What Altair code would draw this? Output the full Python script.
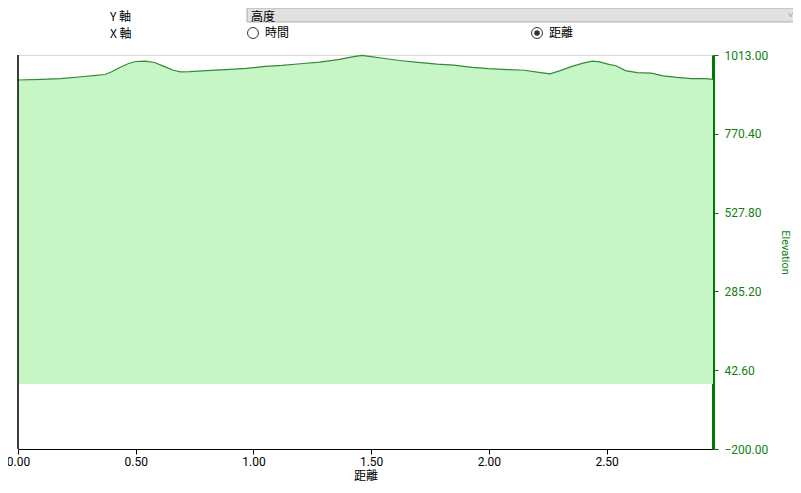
import altair as alt
import pandas as pd

# --- data ---
distance = [0.00, 0.10, 0.18, 0.27, 0.33, 0.37, 0.40, 0.43, 0.47, 0.50, 0.54, 0.58,
            0.62, 0.66, 0.69, 0.73, 0.80, 0.90, 0.97, 1.05, 1.12, 1.20, 1.28, 1.36,
            1.42, 1.46, 1.50, 1.55, 1.62, 1.70, 1.78, 1.85, 1.93, 2.00, 2.08, 2.15,
            2.22, 2.26, 2.30, 2.35, 2.40, 2.44, 2.47, 2.51, 2.54, 2.58, 2.63, 2.69,
            2.74, 2.80, 2.86, 2.92, 2.952]
elevation = [936, 938, 940, 946, 950, 953, 962, 974, 987, 993, 994, 990,
             978, 966, 961, 962, 965, 969, 972, 978, 981, 986, 991, 999,
             1007, 1012, 1008, 1003, 996, 990, 985, 982, 975, 971, 968, 966,
             959, 955, 964, 977, 988, 994, 992, 984, 980, 965, 959, 957,
             949, 944, 940, 940, 938]
x_ticks = [0.0, 0.5, 1.0, 1.5, 2.0, 2.5]
y_ticks = [-200.0, 42.6, 285.2, 527.8, 770.4, 1013.0]
x_title = "距離"
y_title = "Elevation"
y_axis_label = "Y 軸"
x_axis_label = "X 軸"
dropdown_value = "高度"
radio_labels = ["時間", "距離"]

df = pd.DataFrame({"d": distance, "e": elevation})

W, H = 695, 394
CJK = "Noto Sans CJK TC"
GREEN = "#118011"

x_enc = alt.X("d:Q", scale=alt.Scale(domain=[0, 2.952], nice=False, zero=False),
              axis=alt.Axis(values=x_ticks, format=".2f", title=x_title, grid=False,
                            domainColor="black", tickColor="black", labelColor="black",
                            labelFont="Roboto", labelFontSize=12, tickSize=5,
                            labelFlush=False, labelOverlap=False,
                            titleFont=CJK, titleFontSize=12, titleFontWeight="normal",
                            titleColor="black", titleY=30, titleBaseline="alphabetic",
                            labelPadding=2))
y_enc = alt.Y("e:Q", scale=alt.Scale(domain=[-200, 1013], nice=False, zero=False),
              axis=alt.Axis(orient="right", values=y_ticks, format=".2f", title=y_title,
                            grid=True, gridColor="#d4d4d4", gridDash=[2, 2],
                            domainColor="#007a00", domainWidth=3, tickColor="#1f5f1f",
                            tickSize=5, labelColor=GREEN, labelFont="Roboto", labelFontSize=12,
                            labelPadding=6, labelFlush=False, labelOverlap=False,
                            titleColor=GREEN, titleFont="Roboto",
                            titleFontSize=11, titleFontWeight="normal", titlePadding=12))

area = alt.Chart(df).mark_area(color="#c6f5c6", opacity=1).encode(
    x=x_enc, y=y_enc, y2=alt.datum(0))
line = alt.Chart(df).mark_line(color="#348a34", strokeWidth=1.2).encode(
    x="d:Q", y="e:Q")

one = alt.Data(values=[{"k": 1}])
left_rule = alt.Chart(one).mark_rule(color="black", strokeWidth=1.5).encode(
    x=alt.value(0), y=alt.value(0), y2=alt.value(H))

# header UI (positions relative to plot origin)
dropdown = alt.Chart(one).mark_rect(fill="#e1e1e1", stroke="#adadad", strokeWidth=1).encode(
    x=alt.value(229), x2=alt.value(800), y=alt.value(-47), y2=alt.value(-33))
def txt(s, x, y, size=12, color="black", font=CJK):
    return alt.Chart(one).mark_text(align="left", baseline="middle", font=font,
                                    fontSize=size, color=color).encode(
        x=alt.value(x), y=alt.value(y), text=alt.value(s))
ylab = txt(y_axis_label, 92, -38)
xlab = txt(x_axis_label, 92, -21)
ddv = txt(dropdown_value, 233, -38)
arrow = txt("˅", 770, -40, size=9, color="#555555")
r1 = alt.Chart(one).mark_point(shape="circle", filled=True, fill="white", stroke="#333333",
                               strokeWidth=1, size=120, opacity=1).encode(
    x=alt.value(235), y=alt.value(-22))
r1t = txt(radio_labels[0], 247, -22)
r2 = alt.Chart(one).mark_point(shape="circle", filled=True, fill="white", stroke="#333333",
                               strokeWidth=1, size=120, opacity=1).encode(
    x=alt.value(519), y=alt.value(-22))
r2d = alt.Chart(one).mark_point(shape="circle", filled=True, fill="#333333", size=30,
                                opacity=1).encode(x=alt.value(519), y=alt.value(-22))
r2t = txt(radio_labels[1], 531, -22)

chart = alt.layer(area, line, left_rule, dropdown, ylab, xlab, ddv, arrow,
                  r1, r1t, r2, r2d, r2t).properties(
    width=W, height=H,
    autosize=alt.AutoSizeParams(type="none"),
    padding={"left": 10, "top": 47, "right": 80, "bottom": 32},
).configure_view(stroke=None).configure(background="white")

chart.save("out.html", embed_options={"renderer": "svg", "actions": False})
